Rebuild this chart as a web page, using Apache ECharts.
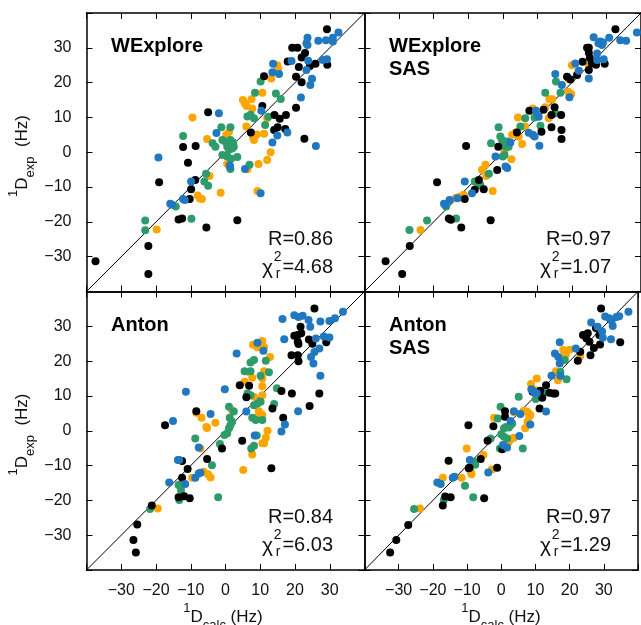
<!DOCTYPE html>
<html><head><meta charset="utf-8">
<script src="https://cdn.jsdelivr.net/npm/echarts@6/dist/echarts.min.js"></script>
<style>html,body{margin:0;padding:0;background:#fff}#c{width:641px;height:625px}</style>
</head><body><div id="c"></div>
<script>
// ---- data ----
const panelNames = [['WExplore'], ['WExplore','SAS'], ['Anton'], ['Anton','SAS']];
const rValues = ['0.86', '0.97', '0.84', '0.97'];
const chiValues = ['4.68', '1.07', '6.03', '1.29'];
const tickValues = [-30, -20, -10, 0, 10, 20, 30];
const axisMin = -40, axisMax = 40;

const weBlack = [[-37.4,-31.3],[-22.2,-26.9],[-22.2,-35.0],[-19.1,-8.6],[-12.2,1.5],[-10.8,-3.0],[-8.6,1.8],[-5.0,11.5],[-8.7,-8.0],[-9.9,-10.6],[-10.3,-13.4],[-13.5,-19.3],[-12.5,-19.0],[-5.5,-21.6],[3.4,-19.5],[7.3,5.7],[10.6,13.3],[11.1,21.8],[14.1,10.7],[15.6,9.6],[17.4,10.7],[14.0,6.4],[15.0,7.2],[17.2,6.7],[20.3,12.8],[20.3,21.7],[21.9,20.1],[22.7,3.9],[17.9,26.1],[19.2,30.0],[20.7,30.0],[21.9,27.2],[22.9,28.5],[21.1,24.5],[24.3,24.8],[25.9,25.4],[29.3,25.1],[29.2,35.3]];
const weBlue = [[-19.3,-1.5],[-15.9,-14.8],[-15.4,-15.1],[-12.2,-13.4],[-11.7,-13.7],[-9.9,-8.4],[-2.6,5.5],[-1.9,11.2],[1.2,-3.8],[1.3,-4.1],[5.6,-4.8],[10.1,-11.8],[10.3,11.9],[13.5,2.8],[14.9,4.8],[17.8,5.7],[21.7,15.7],[24.4,19.3],[24.9,21.1],[23.3,23.6],[13.7,25.4],[13.5,23.0],[15.4,22.5],[26.0,1.8],[19.0,26.2],[23.6,32.9],[23.3,31.3],[23.6,30.8],[23.8,26.3],[26.7,32.0],[28.0,26.5],[29.2,26.7],[28.9,32.2],[30.9,32.9],[30.9,31.8],[32.5,34.4]];
const weGreen = [[-23.1,-19.6],[-23.1,-22.4],[-14.3,-15.6],[-12.2,4.7],[-9.8,-19.1],[-5.6,-6.2],[-5.0,-9.6],[-6.1,-8.4],[-3.7,2.6],[-2.9,1.6],[-1.2,7.2],[1.4,7.2],[-0.9,3.5],[0.0,3.0],[0.5,1.6],[1.0,2.3],[1.4,3.5],[2.2,2.8],[2.4,1.6],[1.0,0.7],[1.9,1.1],[-0.9,-0.8],[0.5,-1.2],[1.6,-1.9],[3.4,-1.4],[1.4,-4.8],[6.9,-3.6],[6.3,10.3],[7.2,10.8],[8.2,9.8],[10.1,20.3],[8.5,17.1],[14.5,16.9],[15.9,15.3],[11.4,7.8],[12.3,10.2]];
const weOrange = [[-19.8,-22.2],[-9.5,10.0],[-5.3,3.8],[-4.6,-6.8],[-8.0,-12.4],[-7.4,-13.3],[-6.8,-13.4],[-1.4,-11.6],[0.2,5.0],[1.0,5.8],[0.5,-3.4],[5.0,15.0],[5.6,14.0],[6.1,13.3],[7.5,15.2],[7.7,12.6],[6.0,7.4],[7.9,4.3],[8.2,3.5],[9.0,5.1],[11.1,5.3],[9.5,-3.4],[12.0,-2.2],[13.0,0.0],[9.2,-11.1],[12.0,9.8],[10.6,17.1],[13.2,21.2],[14.9,25.0],[15.2,23.9],[6.3,-4.9]];

const wsBlack = [[-33.9,-31.3],[-29.1,-35.0],[-26.9,-26.9],[-19.0,-8.6],[-15.6,-19.0],[-15.0,-19.4],[-12.0,-21.6],[-10.6,1.8],[-11.0,-13.4],[-8.1,-10.8],[-6.9,-8.0],[-5.5,-10.6],[-3.5,-19.5],[-1.6,-5.1],[-1.3,1.6],[4.1,5.7],[7.7,11.9],[11.2,5.9],[11.8,12.2],[14.1,10.7],[15.0,12.9],[16.9,10.7],[14.1,7.2],[17.0,6.4],[17.0,3.8],[18.6,21.7],[19.6,20.9],[21.5,22.2],[24.4,30.0],[24.9,30.0],[24.9,28.6],[25.2,27.1],[25.8,25.6],[27.0,25.1],[29.5,25.4],[32.6,35.3],[23.1,26.0],[24.9,23.6]];
const wsBlue = [[-17.0,-14.8],[-16.6,-15.1],[-15.4,-13.7],[-13.1,-13.2],[-11.0,-8.4],[-8.9,-11.8],[-2.1,-1.2],[0.8,-4.1],[1.3,-4.5],[2.2,2.8],[7.5,5.6],[8.7,5.0],[9.2,4.5],[9.6,11.9],[10.4,10.2],[10.6,1.9],[15.2,22.5],[17.1,19.3],[19.3,15.8],[21.0,25.5],[22.0,23.4],[24.9,21.2],[26.3,33.0],[27.7,31.3],[28.2,31.8],[28.7,30.8],[29.0,31.5],[30.8,32.9],[27.3,28.4],[27.3,26.5],[29.2,26.7],[34.0,32.2],[35.7,32.0],[38.8,34.4]];
const wsGreen = [[-27.0,-22.3],[-21.9,-19.6],[-13.5,-19.0],[-16.4,-15.6],[-8.1,-8.4],[-7.0,-9.5],[-6.5,-9.3],[-4.0,-6.2],[-3.4,2.6],[-1.2,7.2],[-0.7,4.5],[-0.2,3.5],[0.3,2.6],[0.8,1.6],[1.7,1.6],[1.3,3.1],[0.5,-0.8],[0.0,-1.2],[5.1,7.4],[6.5,9.8],[9.2,10.0],[10.9,7.6],[12.3,17.1],[15.4,20.3],[16.7,17.1],[15.2,11.2]];
const wsOrange = [[-23.8,-22.3],[-13.7,-13.2],[-13.0,-13.0],[-12.2,-12.7],[-11.3,-12.2],[-2.9,-11.1],[-6.0,-5.0],[-5.0,-3.6],[-4.8,-6.8],[0.5,0.4],[2.5,-2.0],[0.3,1.6],[2.7,5.0],[3.7,5.7],[4.6,4.5],[5.6,2.4],[4.4,10.0],[6.5,7.4],[8.7,12.6],[12.3,12.9],[13.3,9.8],[13.5,15.2],[14.3,15.2],[19.1,21.0],[18.9,17.4],[19.8,16.7],[20.0,25.0],[22.0,23.3],[25.0,24.9]];

const anBlack = [[-26.5,-31.4],[-25.8,-35.0],[-25.4,-26.9],[-21.2,-21.5],[-17.4,1.6],[-13.5,-19.1],[-12.5,-13.5],[-11.9,-18.8],[-10.3,-19.4],[-12.5,-8.7],[-10.9,-11.0],[-8.4,5.6],[-5.3,-8.1],[-1.0,-5.1],[4.8,-2.9],[4.1,13.1],[6.8,12.9],[6.0,9.6],[13.5,6.4],[13.2,-10.8],[16.1,11.4],[16.6,3.7],[19.1,10.7],[24.2,7.1],[27.0,10.7],[19.0,21.7],[20.8,21.7],[21.0,20.0],[19.8,27.3],[20.8,27.5],[21.6,29.9],[21.8,28.0],[20.8,25.6],[21.0,24.9],[25.6,35.1],[24.0,26.2],[25.0,25.0],[29.0,25.4]];
const anBlue = [[-16.2,-14.9],[-15.1,2.8],[-13.7,-8.4],[-13.3,-8.4],[-11.6,-15.3],[-11.4,11.2],[-8.7,-13.5],[-7.7,-12.3],[-7.2,-12.1],[-7.7,-4.8],[-4.3,4.8],[-0.2,11.9],[6.0,5.5],[8.4,-1.4],[9.2,25.3],[10.9,23.0],[3.2,22.2],[16.1,-0.2],[17.1,1.8],[20.9,5.6],[16.4,32.1],[16.9,26.3],[19.8,33.2],[21.0,32.7],[22.2,33.0],[23.9,31.8],[24.4,29.9],[25.6,22.6],[24.6,21.2],[25.3,19.3],[27.0,23.6],[27.3,15.8],[27.3,31.4],[28.3,27.1],[29.9,26.8],[29.9,31.5],[31.5,32.3],[33.8,34.2],[26.0,26.5]];
const anGreen = [[-21.7,-22.5],[-13.5,-15.6],[-12.8,-17.0],[-13.3,-19.9],[-8.7,-2.2],[-3.9,-9.9],[-2.1,-19.1],[-1.6,-3.8],[-0.3,-1.2],[0.5,-0.7],[1.0,0.7],[1.4,1.6],[1.9,2.6],[1.2,3.7],[2.4,5.5],[1.0,6.9],[7.2,17.1],[7.2,19.6],[5.5,17.1],[8.2,20.3],[11.6,20.1],[12.5,16.8],[10.1,15.8],[6.3,10.7],[7.2,10.2],[8.2,7.3],[9.2,7.8],[10.1,8.3],[7.7,3.7],[8.7,3.1],[10.6,3.1],[9.0,-1.4],[7.4,-5.1],[8.2,-4.3],[14.0,7.7],[14.8,12.2]];
const anOrange = [[-19.5,-22.3],[-9.6,-13.5],[-8.4,5.2],[-6.9,3.7],[-5.5,1.1],[-5.3,0.8],[-7.2,-5.1],[-6.3,-11.8],[-5.0,-12.5],[-4.3,-13.4],[-2.9,2.3],[1.9,5.9],[5.1,-11.3],[5.5,14.1],[6.9,16.7],[7.7,15.2],[7.9,24.7],[9.2,24.0],[10.6,25.8],[11.1,24.0],[12.8,21.2],[11.1,17.1],[10.6,15.0],[10.6,12.8],[8.2,9.8],[10.6,10.2],[9.6,5.6],[10.1,4.9],[10.6,4.5],[9.2,4.0],[11.6,-2.0],[10.6,-3.6],[11.1,-3.6],[12.1,0.0],[7.7,-6.8]];

const asBlack = [[-32.5,-35.0],[-30.7,-31.4],[-27.2,-27.1],[-17.1,-21.5],[-16.4,-18.9],[-14.8,-19.1],[-15.4,-8.6],[-9.6,1.6],[-9.5,-10.8],[-9.3,-10.6],[-6.0,-8.1],[-5.0,-19.4],[-4.0,-2.9],[-1.2,-10.6],[0.3,-5.3],[1.1,5.6],[1.1,4.0],[-2.3,1.3],[9.2,11.2],[11.4,11.5],[12.0,9.5],[11.2,6.4],[13.1,13.1],[14.1,10.9],[15.3,10.7],[15.8,10.7],[22.4,20.1],[23.1,22.7],[23.9,27.5],[24.9,26.6],[25.3,28.0],[25.8,25.6],[27.1,23.8],[27.7,29.5],[28.7,27.5],[26.1,21.7],[29.2,35.1],[28.9,24.8],[34.8,25.4]];
const asBlue = [[-18.7,-14.9],[-17.7,-15.3],[-14.2,-13.5],[-13.7,-13.2],[-9.2,-8.4],[-3.8,-12.0],[0.5,-4.1],[1.7,-4.8],[2.7,2.8],[3.7,5.6],[5.6,4.8],[5.3,-1.5],[8.5,1.8],[8.8,11.9],[9.5,11.2],[10.4,10.8],[13.1,5.5],[14.7,15.8],[17.3,15.8],[15.7,22.2],[16.7,21.2],[17.1,19.3],[17.1,25.4],[21.8,23.6],[26.3,31.1],[28.2,29.9],[29.5,28.5],[30.4,32.8],[31.6,32.3],[32.3,31.6],[29.7,26.7],[32.1,26.3],[32.6,30.1],[33.7,32.7],[34.5,32.9],[37.2,34.2]];
const asGreen = [[-25.5,-22.5],[-16.8,-19.9],[-10.6,-15.8],[-8.2,-19.1],[-7.9,-8.9],[-7.6,-9.8],[-3.1,-2.2],[-0.4,-5.1],[-0.2,6.9],[0.8,0.7],[1.4,1.1],[2.2,0.9],[2.7,1.6],[3.2,2.1],[0.8,-1.7],[1.7,-2.2],[5.1,9.8],[6.3,-5.1],[10.1,9.1],[12.3,11.0],[17.3,16.9],[19.1,14.8],[18.6,20.3],[-1.0,3.5],[0.0,-1.0]];
const asOrange = [[-23.8,-22.3],[-17.1,-13.5],[-11.6,-13.5],[-10.1,-5.1],[-8.9,-11.8],[-8.7,-12.5],[-5.2,-7.0],[-2.8,-11.1],[-2.1,3.7],[2.2,-3.2],[2.9,-2.4],[3.7,-2.0],[7.0,0.7],[3.7,5.3],[6.5,5.7],[7.5,5.5],[8.0,5.0],[8.2,4.0],[8.5,4.5],[7.7,2.6],[8.7,13.4],[9.9,11.7],[10.4,15.0],[16.0,17.1],[16.6,14.5],[17.0,16.0],[18.1,23.2],[18.9,21.9],[20.0,23.3],[23.1,21.4]];

const panelData = [
  {orange: weOrange, green: weGreen, black: weBlack, blue: weBlue},
  {orange: wsOrange, green: wsGreen, black: wsBlack, blue: wsBlue},
  {orange: anOrange, green: anGreen, black: anBlack, blue: anBlue},
  {orange: asOrange, green: asGreen, black: asBlack, blue: asBlue}
];

// ---- styling / layout ----
const colors = {orange: '#ffa500', green: '#2e9c6a', black: '#000000', blue: '#1f78c0'};
const FONT = '"Liberation Sans", Arial, Helvetica, sans-serif';
const TXT = '#111';
const PW = 278, PH = 278.5;
const grids = [
  {left: 86.5, top: 13}, {left: 364.5, top: 13},
  {left: 86.5, top: 291.5}, {left: 364.5, top: 291.5}
];
const fmt = v => (tickValues.indexOf(v) < 0 ? '' : (v < 0 ? '\u2212' + (-v) : String(v)));

const option = {
  animation: false,
  backgroundColor: '#fff',
  grid: grids.map(g => ({left: g.left, top: g.top, width: PW, height: PH, containLabel: false})),
  xAxis: [], yAxis: [], series: [], graphic: []
};

grids.forEach((g, i) => {
  const isBottom = i >= 2, isLeft = i % 2 === 0;
  const base = {
    type: 'value', gridIndex: i, min: axisMin, max: axisMax, interval: 10,
    splitLine: {show: false},
    axisLine: {show: true, onZero: false, lineStyle: {color: '#000', width: 1.5}},
    axisTick: {show: true, inside: true, length: 6, lineStyle: {color: '#000', width: 1}}
  };
  option.xAxis.push(Object.assign({}, base, {position: 'bottom',
    axisLabel: {show: isBottom, formatter: fmt, fontSize: 16, color: TXT, fontFamily: FONT, margin: 13}}));
  option.xAxis.push(Object.assign({}, base, {position: 'top', axisLabel: {show: false}}));
  option.yAxis.push(Object.assign({}, base, {position: 'left',
    axisLabel: {show: isLeft, formatter: fmt, fontSize: 16, color: TXT, fontFamily: FONT, margin: 15}}));
  option.yAxis.push(Object.assign({}, base, {position: 'right', axisLabel: {show: false}}));

  const xi = i * 2, yi = i * 2;
  option.series.push({
    type: 'line', xAxisIndex: xi, yAxisIndex: yi, data: [[axisMin, axisMin], [axisMax, axisMax]],
    symbol: 'none', silent: true, z: 1, clip: true,
    lineStyle: {color: '#000', width: 1}
  });
  ['orange', 'green', 'black', 'blue'].forEach(c => {
    option.series.push({
      type: 'scatter', xAxisIndex: xi, yAxisIndex: yi, data: panelData[i][c],
      symbol: 'circle', symbolSize: 8, z: 3, clip: false,
      itemStyle: {color: colors[c], opacity: 1}
    });
  });

  // panel title
  panelNames[i].forEach((t, k) => {
    option.graphic.push({type: 'text', left: g.left + 24.5, top: g.top + 34.5 + 23 * k - 11, z: 10,
      style: {text: t, fontFamily: FONT, fontSize: 20, fontWeight: 'bold', fill: '#000'}});
  });
  const right = g.left + PW - 31.5;
  option.graphic.push({type: 'text', x: right, y: g.top + 226.3, z: 10,
    style: {text: 'R=' + rValues[i], fontFamily: FONT, fontSize: 20, fill: TXT, align: 'right', verticalAlign: 'middle'}});
  const cy = g.top + 254;
  option.graphic.push({type: 'text', x: right, y: cy, z: 10,
    style: {text: '=' + chiValues[i], fontFamily: FONT, fontSize: 20, fill: TXT, align: 'right', verticalAlign: 'middle'}});
  option.graphic.push({type: 'text', x: right - 51.5, y: cy - 10, z: 10,
    style: {text: '2', fontFamily: FONT, fontSize: 14, fill: TXT, align: 'right', verticalAlign: 'middle'}});
  option.graphic.push({type: 'text', x: right - 52.5, y: cy + 7, z: 10,
    style: {text: 'r', fontFamily: FONT, fontSize: 14, fill: TXT, align: 'right', verticalAlign: 'middle'}});
  option.graphic.push({type: 'text', x: right - 60, y: cy + 1, z: 10,
    style: {text: '\u03c7', fontFamily: FONT, fontSize: 21, fill: TXT, align: 'right', verticalAlign: 'middle'}});

  const rich = {
    m: {fontSize: 17, fontFamily: FONT, fill: TXT, color: TXT, lineHeight: 30, verticalAlign: 'middle'},
    sup: {fontSize: 13, fontFamily: FONT, fill: TXT, color: TXT, lineHeight: 16, verticalAlign: 'top'},
    sub: {fontSize: 13, fontFamily: FONT, fill: TXT, color: TXT, lineHeight: 16, verticalAlign: 'bottom'}
  };
  if (isLeft) {
    option.graphic.push({type: 'text', x: 22, y: g.top + 143, rotation: Math.PI / 2, z: 10,
      style: {text: '{sup|1}{m|D}{sub|exp}{m|  (Hz)}', rich: rich, align: 'center', verticalAlign: 'middle', fill: TXT}});
  }
  if (isBottom) {
    option.graphic.push({type: 'text', x: g.left + 136.5, y: 617, z: 10,
      style: {text: '{sup|1}{m|D}{sub|calc}{m| (Hz)}', rich: rich, align: 'center', verticalAlign: 'middle', fill: TXT}});
  }
});

const chart = echarts.init(document.getElementById('c'), null, {renderer: 'canvas'});
chart.setOption(option);
</script></body></html>
